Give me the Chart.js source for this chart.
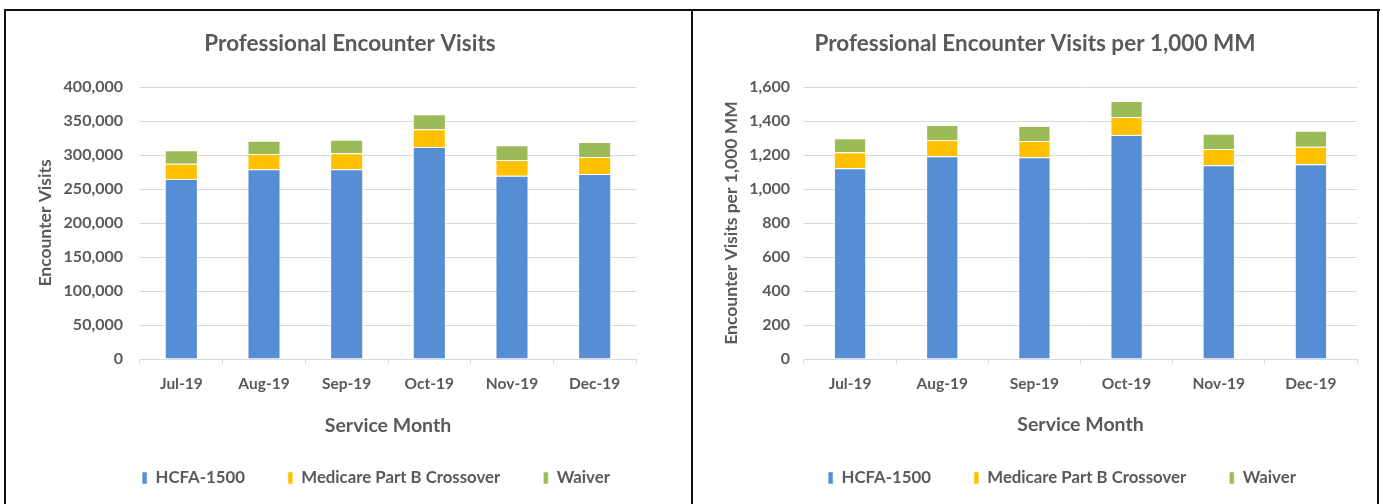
<!DOCTYPE html>
<html>
<head>
<meta charset="utf-8">
<script src="https://cdn.jsdelivr.net/npm/chart.js@4.4.1/dist/chart.umd.min.js"></script>
<style>
  html, body { margin: 0; padding: 0; background: #ffffff; }
  body { width: 1383px; height: 504px; position: relative; overflow: hidden; }
  .line { position: absolute; background: #111; }
  .wrap { position: absolute; }
</style>
</head>
<body>
<div class="line" style="left:4px; top:9px; width:1376px; height:2px;"></div>
<div class="line" style="left:4px; top:9px; width:2px; height:495px;"></div>
<div class="line" style="left:691px; top:9px; width:2px; height:495px;"></div>
<div class="line" style="left:1377px; top:9px; width:2px; height:495px;"></div>
<div class="wrap" style="left:6px; top:11px; width:685px; height:493px;"><canvas id="c1"></canvas></div>
<div class="wrap" style="left:693px; top:11px; width:684px; height:493px;"><canvas id="c2"></canvas></div>
<script>
// ---- data ----
const months = ['Jul-19', 'Aug-19', 'Sep-19', 'Oct-19', 'Nov-19', 'Dec-19'];
const seriesNames = ['HCFA-1500', 'Medicare Part B Crossover', 'Waiver'];
const visitsHCFA = [264700, 279000, 279000, 311800, 269600, 272100];
const visitsMedicare = [22500, 22500, 23500, 26000, 23000, 25000];
const visitsWaiver = [19700, 19500, 20000, 22100, 21700, 22000];
const rateHCFA = [1122, 1192, 1187, 1317, 1140, 1146];
const rateMedicare = [94, 96, 95, 107, 95, 103];
const rateWaiver = [82, 88, 88, 94, 90, 93];
const visitsAxis = { min: 0, max: 400000, step: 50000 };
const rateAxis = { min: 0, max: 1600, step: 200 };

const colors = ['#558ED5', '#FFC000', '#9BBB59'];
const TXT = '#595959';
const FONT = 'Lato, "Open Sans", sans-serif';

const placePlugin = {
  id: 'place',
  afterLayout(chart, args, o) {
    const t = chart.titleBlock;
    if (t) { const dx = o.titleCX - (t.left + t.right) / 2; t.left += dx; t.right += dx; }
    const lg = chart.legend;
    if (lg) {
      const lo = lg.options.labels;
      const fs = lo.font.size;
      const ih = Math.max(fs, lo.boxHeight);
      const dy = o.legendCY - (lg.top + lo.padding + ih / 2);
      lg.top += dy; lg.bottom += dy;
      const dx = o.legendCX - (lg.left + lg.right) / 2;
      lg.left += dx; lg.right += dx;
    }
  }
};

function makeChart(id, cfg) {
  const datasets = cfg.series.map((d, i) => ({
    label: seriesNames[i],
    data: d,
    backgroundColor: colors[i],
    borderColor: 'rgba(255,255,255,0.55)',
    borderWidth: 1,
    barPercentage: cfg.barPct,
    categoryPercentage: 1
  }));
  return new Chart(document.getElementById(id), {
    type: 'bar',
    data: { labels: months, datasets },
    plugins: [placePlugin],
    options: {
      responsive: true,
      maintainAspectRatio: false,
      animation: false,
      layout: { padding: { left: 0, right: cfg.padRight, top: 0, bottom: 0 } },
      plugins: {
        place: { titleCX: cfg.titleCX, legendCX: cfg.legendCX, legendCY: 467 },
        title: {
          display: true, text: cfg.title, color: TXT,
          font: { family: FONT, size: 22.5, weight: 'bold' },
          padding: { top: 19.5, bottom: 29.5 }
        },
        legend: {
          position: 'bottom',
          maxHeight: 145 - cfg.xH,
          labels: {
            color: TXT, boxWidth: 5, boxHeight: 12, padding: 43,
            font: { family: FONT, size: 16.8, weight: 'bold' }
          }
        },
        tooltip: { enabled: false }
      },
      scales: {
        x: {
          stacked: true,
          afterFit: (s) => { s.height = cfg.xH; },
          grid: { drawOnChartArea: false, color: '#d9d9d9', tickLength: 5, lineWidth: 1 },
          border: { color: '#d9d9d9', width: 1 },
          ticks: { color: TXT, padding: 11, font: { family: FONT, size: 15.5, weight: 'bold' } },
          title: {
            display: true, text: 'Service Month', color: TXT,
            font: { family: FONT, size: 19.5, weight: 'bold' },
            padding: { top: 0, bottom: 0 }
          }
        },
        y: {
          stacked: true,
          min: cfg.axis.min, max: cfg.axis.max,
          afterFit: (s) => { s.width = cfg.yW; },
          grid: { color: '#d9d9d9', lineWidth: 1, drawTicks: false },
          border: { display: false },
          ticks: {
            stepSize: cfg.axis.step, color: TXT, padding: cfg.tickPad,
            font: { family: FONT, size: 16, weight: 'bold' },
            callback: (v) => Number(v).toLocaleString('en-US')
          },
          title: {
            display: true, text: cfg.yTitle, color: TXT,
            font: { family: FONT, size: 17.5, weight: 'bold' },
            padding: { top: cfg.yTitlePad, bottom: 0 }
          }
        }
      }
    }
  });
}

makeChart('c1', {
  title: 'Professional Encounter Visits',
  yTitle: 'Encounter Visits',
  series: [visitsHCFA, visitsMedicare, visitsWaiver],
  axis: visitsAxis,
  barPct: 0.4, padRight: 55, yW: 134, tickPad: 17, yTitlePad: 28.5,
  xH: 78.7, titleCX: 344, legendCX: 370
});
makeChart('c2', {
  title: 'Professional Encounter Visits per 1,000 MM',
  yTitle: 'Encounter Visits per 1,000 MM',
  series: [rateHCFA, rateMedicare, rateWaiver],
  axis: rateAxis,
  barPct: 0.35, padRight: 20, yW: 111, tickPad: 14, yTitlePad: 27.5,
  xH: 77.7, titleCX: 342, legendCX: 369
});
</script>
</body>
</html>
